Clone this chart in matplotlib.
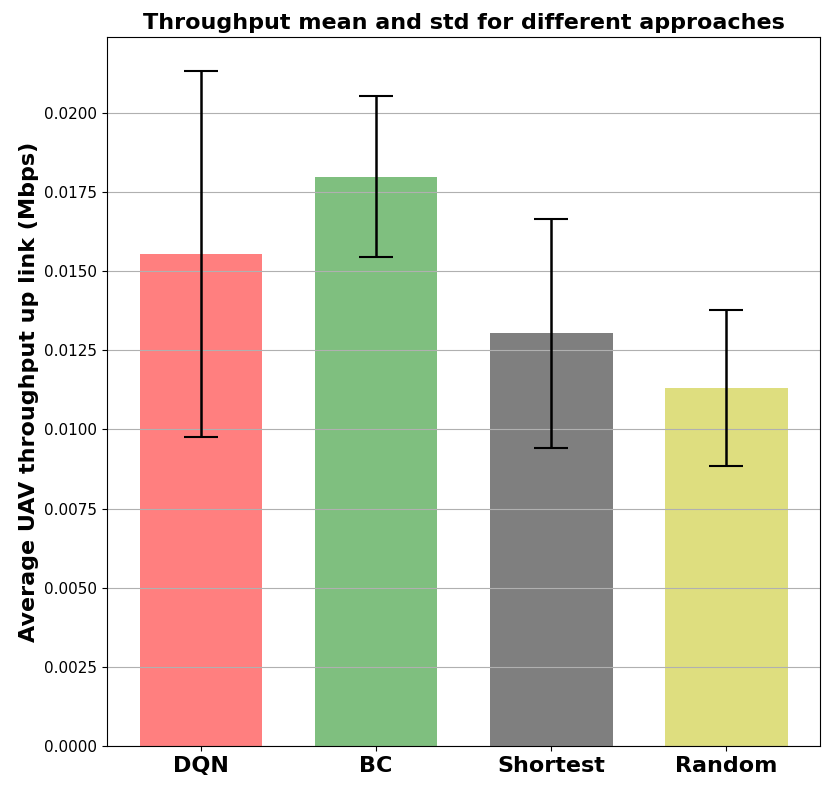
import numpy as np
import matplotlib.pyplot as plt

# Values
approaches = ["DQN", "BC", "Shortest", "Random"]
means = [0.01555, 0.01799, 0.01304, 0.01131]
stds = [0.00578, 0.00255, 0.00361, 0.00245]
colors = ["r", "g", "k", "y"]

fig, ax = plt.subplots(figsize=(8.31, 7.91), dpi=100)
x = np.arange(len(approaches))
ax.bar(x, means, width=0.7, color=colors, alpha=0.5,
       yerr=stds, capsize=12, error_kw=dict(elinewidth=1.8, capthick=1.5, ecolor="black"))

ax.set_xticks(x)
ax.set_xticklabels(approaches, fontsize=16, fontweight="bold")
ax.tick_params(axis="y", labelsize=11)
ax.set_ylabel("Average UAV throughput up link (Mbps)", fontsize=16, fontweight="bold")
ax.set_title("Throughput mean and std for different approaches", fontsize=16, fontweight="bold")
ax.yaxis.grid(True, color="#b0b0b0")

plt.subplots_adjust(left=0.129, right=0.987, top=0.953, bottom=0.057)
plt.savefig("out.png")
